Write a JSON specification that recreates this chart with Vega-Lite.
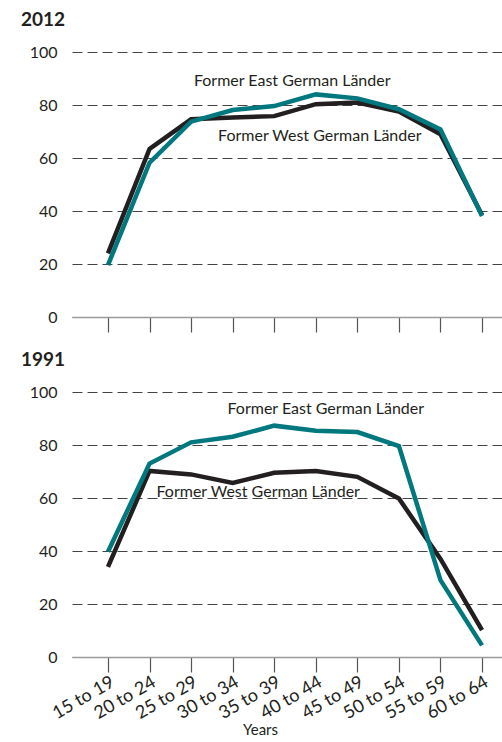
{
  "$schema": "https://vega.github.io/schema/vega-lite/v6.json",
  "background": "white",
  "padding": {"left": 21, "top": 11, "right": 0, "bottom": 0},
  "spacing": 18,
  "config": {
    "view": {"stroke": null},
    "font": "Lato",
    "axis": {
      "labelFont": "Lato", "labelFontSize": 16, "labelColor": "#231f20",
      "titleFont": "Lato", "titleFontSize": 16, "titleFontWeight": "normal", "titleColor": "#231f20"
    },
    "title": {"font": "Lato", "fontSize": 19, "fontWeight": "bold", "color": "#231f20", "anchor": "start", "frame": "group", "dx": -51, "offset": 14}
  },
  "datasets": {
    "y2012": [
      {"age": "15 to 19", "region": "West", "value": 24.0},
      {"age": "20 to 24", "region": "West", "value": 63.4},
      {"age": "25 to 29", "region": "West", "value": 74.6},
      {"age": "30 to 34", "region": "West", "value": 75.3},
      {"age": "35 to 39", "region": "West", "value": 75.8},
      {"age": "40 to 44", "region": "West", "value": 80.3},
      {"age": "45 to 49", "region": "West", "value": 80.9},
      {"age": "50 to 54", "region": "West", "value": 77.5},
      {"age": "55 to 59", "region": "West", "value": 69.0},
      {"age": "60 to 64", "region": "West", "value": 38.5},
      {"age": "15 to 19", "region": "East", "value": 19.6},
      {"age": "20 to 24", "region": "East", "value": 58.2},
      {"age": "25 to 29", "region": "East", "value": 73.7},
      {"age": "30 to 34", "region": "East", "value": 78.1},
      {"age": "35 to 39", "region": "East", "value": 79.6},
      {"age": "40 to 44", "region": "East", "value": 84.0},
      {"age": "45 to 49", "region": "East", "value": 82.5},
      {"age": "50 to 54", "region": "East", "value": 78.4},
      {"age": "55 to 59", "region": "East", "value": 70.8},
      {"age": "60 to 64", "region": "East", "value": 38.1}
    ],
    "y1991": [
      {"age": "15 to 19", "region": "West", "value": 34.0},
      {"age": "20 to 24", "region": "West", "value": 70.2},
      {"age": "25 to 29", "region": "West", "value": 68.9},
      {"age": "30 to 34", "region": "West", "value": 65.7},
      {"age": "35 to 39", "region": "West", "value": 69.5},
      {"age": "40 to 44", "region": "West", "value": 70.2},
      {"age": "45 to 49", "region": "West", "value": 68.0},
      {"age": "50 to 54", "region": "West", "value": 59.8},
      {"age": "55 to 59", "region": "West", "value": 37.0},
      {"age": "60 to 64", "region": "West", "value": 10.1},
      {"age": "15 to 19", "region": "East", "value": 39.7},
      {"age": "20 to 24", "region": "East", "value": 73.0},
      {"age": "25 to 29", "region": "East", "value": 81.0},
      {"age": "30 to 34", "region": "East", "value": 83.1},
      {"age": "35 to 39", "region": "East", "value": 87.3},
      {"age": "40 to 44", "region": "East", "value": 85.4},
      {"age": "45 to 49", "region": "East", "value": 84.9},
      {"age": "50 to 54", "region": "East", "value": 79.6},
      {"age": "55 to 59", "region": "East", "value": 29.0},
      {"age": "60 to 64", "region": "East", "value": 4.4}
    ]
  },
  "vconcat": [
    {
      "title": "2012",
      "width": 430,
      "height": 265,
      "layer": [
        {
          "data": {"name": "y2012"},
          "mark": {"type": "line", "strokeWidth": 4.5, "strokeJoin": "miter"},
          "encoding": {
            "x": {"field": "age", "type": "ordinal", "sort": null,
                  "scale": {"type": "point", "padding": 0.673, "align": 0.643},
                  "axis": {"title": null, "labels": false, "domainColor": "#9a9a9a", "domainWidth": 1.5, "tickColor": "#555", "tickSize": 15, "tickWidth": 1.2}},
            "y": {"field": "value", "type": "quantitative",
                  "scale": {"domain": [0, 100]},
                  "axis": {"title": null, "values": [0, 20, 40, 60, 80, 100], "ticks": false, "domain": false, "labelPadding": 15,
                           "grid": true, "gridDash": [10, 5], "gridColor": "#444", "gridWidth": 1.2}},
            "color": {"field": "region", "type": "nominal",
                      "scale": {"domain": ["West", "East"], "range": ["#231f20", "#00787e"]}, "legend": null}
          }
        },
        {
          "data": {"values": [{"age": "35 to 39", "value": 89, "label": "Former East German Länder"}]},
          "mark": {"type": "text", "font": "Lato", "fontSize": 16, "color": "#231f20", "dx": 18, "baseline": "middle"},
          "encoding": {"x": {"field": "age", "type": "ordinal", "sort": null}, "y": {"field": "value", "type": "quantitative"}, "text": {"field": "label"}}
        },
        {
          "data": {"values": [{"age": "40 to 44", "value": 68.3, "label": "Former West German Länder"}]},
          "mark": {"type": "text", "font": "Lato", "fontSize": 16, "color": "#231f20", "dx": 4, "baseline": "middle"},
          "encoding": {"x": {"field": "age", "type": "ordinal", "sort": null}, "y": {"field": "value", "type": "quantitative"}, "text": {"field": "label"}}
        }
      ]
    },
    {
      "title": "1991",
      "width": 430,
      "height": 265,
      "layer": [
        {
          "data": {"name": "y1991"},
          "mark": {"type": "line", "strokeWidth": 4.5, "strokeJoin": "miter"},
          "encoding": {
            "x": {"field": "age", "type": "ordinal", "sort": null,
                  "scale": {"type": "point", "padding": 0.673, "align": 0.643},
                  "axis": {"title": "Years", "titleX": 188, "titlePadding": 0, "titleFontSize": 15, "labelAngle": -30, "labelAlign": "right", "labelBaseline": "top", "labelPadding": 1, "labelFontSize": 18,
                           "domainColor": "#9a9a9a", "domainWidth": 1.5, "tickColor": "#555", "tickSize": 15, "tickWidth": 1.2}},
            "y": {"field": "value", "type": "quantitative",
                  "scale": {"domain": [0, 100]},
                  "axis": {"title": null, "values": [0, 20, 40, 60, 80, 100], "ticks": false, "domain": false, "labelPadding": 15,
                           "grid": true, "gridDash": [10, 5], "gridColor": "#444", "gridWidth": 1.2}},
            "color": {"field": "region", "type": "nominal",
                      "scale": {"domain": ["West", "East"], "range": ["#231f20", "#00787e"]}, "legend": null}
          }
        },
        {
          "data": {"values": [{"age": "40 to 44", "value": 93.6, "label": "Former East German Länder"}]},
          "mark": {"type": "text", "font": "Lato", "fontSize": 16, "color": "#231f20", "dx": 10, "baseline": "middle"},
          "encoding": {"x": {"field": "age", "type": "ordinal", "sort": null}, "y": {"field": "value", "type": "quantitative"}, "text": {"field": "label"}}
        },
        {
          "data": {"values": [{"age": "35 to 39", "value": 62.1, "label": "Former West German Länder"}]},
          "mark": {"type": "text", "font": "Lato", "fontSize": 16, "color": "#231f20", "dx": -16, "baseline": "middle"},
          "encoding": {"x": {"field": "age", "type": "ordinal", "sort": null}, "y": {"field": "value", "type": "quantitative"}, "text": {"field": "label"}}
        }
      ]
    }
  ]
}
